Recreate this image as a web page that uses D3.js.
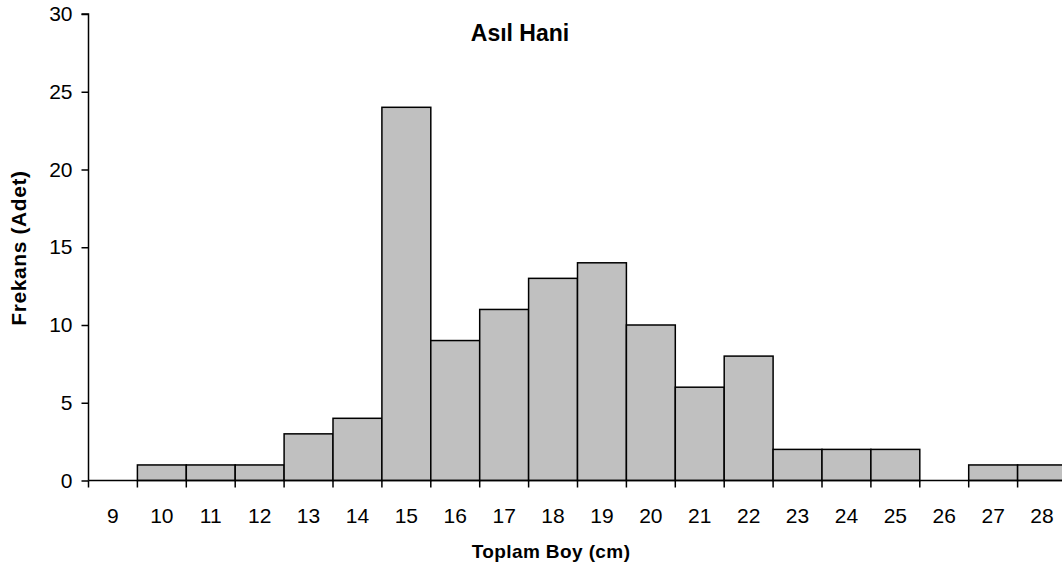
<!DOCTYPE html>
<html>
<head>
<meta charset="utf-8">
<script src="https://cdn.jsdelivr.net/npm/d3@7"></script>
<style>
  html, body { margin: 0; padding: 0; background: #fff; }
  svg { display: block; font-family: Arial, "Liberation Sans", sans-serif; }
</style>
</head>
<body>
<svg id="chart" width="1062" height="571"></svg>
<script>
const categories = ["9","10","11","12","13","14","15","16","17","18","19","20","21","22","23","24","25","26","27","28"];
const frequencies = [0,1,1,1,3,4,24,9,11,13,14,10,6,8,2,2,2,0,1,1];
const yTicks = [0,5,10,15,20,25,30];
const chartTitle = "Asıl Hani";
const xTitle = "Toplam Boy (cm)";
const yTitle = "Frekans (Adet)";

const svg = d3.select("#chart");
const margin = {left: 88.5, top: 14};
const plotW = 48.9 * categories.length;
const y0 = 480.5;

const x = d3.scaleBand().domain(categories).range([margin.left, margin.left + plotW]).padding(0);
const y = d3.scaleLinear().domain([0, 30]).range([y0, margin.top]);

// bars
svg.append("g").selectAll("rect")
  .data(categories.map((c, i) => ({c, v: frequencies[i]})).filter(d => d.v > 0))
  .enter().append("rect")
  .attr("x", d => x(d.c))
  .attr("y", d => y(d.v))
  .attr("width", x.bandwidth())
  .attr("height", d => y(0) - y(d.v))
  .attr("fill", "#c0c0c0")
  .attr("stroke", "#000")
  .attr("stroke-width", 1.5);

// y axis
const yAxis = d3.axisLeft(y).tickValues(yTicks).tickSize(7).tickPadding(9);
const gy = svg.append("g").attr("transform", `translate(${margin.left},0)`).call(yAxis);
gy.select(".domain").attr("stroke", "#000").attr("stroke-width", 1.5).attr("d", `M-7,${y(30)}H0V${y(0)}`);
gy.selectAll(".tick line").attr("stroke", "#000").attr("stroke-width", 1.5);
gy.selectAll(".tick text").attr("font-size", 21).attr("fill", "#000").attr("font-family", "Arial, 'Liberation Sans', sans-serif");

// x axis with ticks at band boundaries
const gx = svg.append("g").attr("transform", `translate(0,${y0})`);
gx.append("line").attr("x1", margin.left).attr("x2", margin.left + plotW).attr("y1", 0).attr("y2", 0)
  .attr("stroke", "#000").attr("stroke-width", 1.5);
const bounds = d3.range(categories.length + 1).map(i => margin.left + i * x.step());
gx.selectAll(".bt").data(bounds).enter().append("line")
  .attr("x1", d => d).attr("x2", d => d).attr("y1", 0).attr("y2", 7)
  .attr("stroke", "#000").attr("stroke-width", 1.5);
gx.selectAll(".xl").data(categories).enter().append("text")
  .attr("x", d => x(d) + x.bandwidth() / 2)
  .attr("y", 42)
  .attr("text-anchor", "middle")
  .attr("font-size", 21)
  .attr("fill", "#000")
  .text(d => d);

// titles
svg.append("text").attr("x", 520).attr("y", 41).attr("text-anchor", "middle")
  .attr("font-size", 23).attr("font-weight", "bold").text(chartTitle);
svg.append("text").attr("x", 551).attr("y", 558).attr("text-anchor", "middle")
  .attr("font-size", 19).attr("font-weight", "bold").attr("letter-spacing", 0.4).text(xTitle);
svg.append("text").attr("transform", `translate(26,248) rotate(-90)`).attr("text-anchor", "middle")
  .attr("font-size", 21).attr("font-weight", "bold").attr("letter-spacing", 0.6).text(yTitle);
</script>
</body>
</html>
